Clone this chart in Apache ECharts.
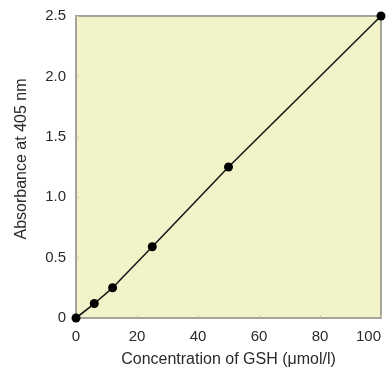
<!DOCTYPE html>
<html>
<head>
<meta charset="utf-8">
<script src="https://cdn.jsdelivr.net/npm/echarts@6/dist/echarts.min.js"></script>
<style>
  html, body { margin: 0; padding: 0; background: #fff; }
  #chart { width: 390px; height: 370px; }
</style>
</head>
<body>
<div id="chart"></div>
<script>
// GSH standard curve
const concGSH = [0, 6, 12, 25, 50, 100];
const absorbance = [0, 0.12, 0.25, 0.59, 1.25, 2.5];

const chart = echarts.init(document.getElementById('chart'));
const font = 'Liberation Sans, Arial, sans-serif';

chart.setOption({
  animation: false,
  grid: {
    left: 76, right: 9, top: 16, bottom: 52,
    outerBoundsMode: 'none',
    containLabel: false,
    show: true,
    backgroundColor: '#f3f3c9',
    borderColor: '#a3a39a',
    borderWidth: 2
  },
  xAxis: {
    type: 'value',
    min: 0, max: 100, interval: 20,
    name: 'Concentration of GSH (μmol/l)',
    nameLocation: 'middle',
    nameGap: 34,
    nameTextStyle: { color: '#2a2a2a', fontSize: 16, fontFamily: font },
    axisLine: { show: false },
    axisTick: { inside: true, length: 3, lineStyle: { color: '#c9c9a8' } },
    splitLine: { show: false },
    axisLabel: { color: '#2a2a2a', fontSize: 15, fontFamily: font, margin: 11, alignMaxLabel: 'right' }
  },
  yAxis: {
    type: 'value',
    min: 0, max: 2.5, interval: 0.5,
    name: 'Absorbance at 405 nm',
    nameLocation: 'middle',
    nameGap: 46,
    nameTextStyle: { color: '#2a2a2a', fontSize: 16, fontFamily: font, padding: [0, 0, 0, 16] },
    axisLine: { show: false },
    axisTick: { inside: true, length: 3, lineStyle: { color: '#c9c9a8' } },
    splitLine: { show: false },
    axisLabel: {
      color: '#2a2a2a', fontSize: 15, fontFamily: font, margin: 10,
      formatter: v => v === 0 ? '0' : v.toFixed(1)
    }
  },
  series: [
    {
      type: 'line',
      data: concGSH.map((x, i) => [x, absorbance[i]]),
      symbol: 'circle',
      symbolSize: 9,
      showAllSymbol: true,
      itemStyle: { color: '#000' },
      lineStyle: { color: '#1a1a1a', width: 1.6 },
      clip: false
    }
  ]
});
</script>
</body>
</html>
